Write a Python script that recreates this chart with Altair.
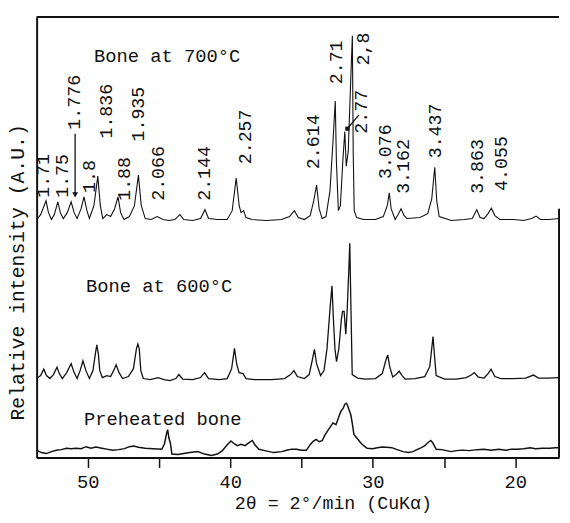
import altair as alt
import pandas as pd

# ---- data (2theta in degrees, relative intensity in A.U.) ----
t700 = [53.58, 53.30, 52.92, 52.75, 52.54, 52.34, 52.09, 51.92, 51.71, 51.43, 51.16, 50.95, 50.74, 50.46,
        50.26, 50.05, 49.88, 49.56, 49.29, 49.11, 48.94, 48.66, 48.39, 48.11, 47.87, 47.69, 47.45, 47.07,
        46.72, 46.44, 46.24, 45.96, 45.54, 45.13, 44.71, 44.30, 43.88, 43.53, 43.26, 42.63, 42.08, 41.77,
        41.52, 40.90, 40.21, 39.86, 39.58, 39.37, 39.24, 39.06, 38.89, 38.48, 37.44, 36.40, 35.84, 35.50,
        35.22, 34.80, 34.39, 34.14, 33.94, 33.76, 33.55, 33.28, 33.00, 32.79, 32.63, 32.55, 32.41, 32.27,
        32.10, 31.96, 31.86, 31.72, 31.55, 31.43, 31.37, 31.30, 31.13, 30.64, 29.81, 29.26, 28.98, 28.84,
        28.71, 28.43, 28.22, 28.01, 27.80, 27.60, 26.69, 26.14, 25.86, 25.65, 25.51, 25.34, 24.48, 23.58,
        23.02, 22.70, 22.47, 22.19, 21.91, 21.68, 21.43, 21.08, 20.11, 19.41, 18.86, 18.54, 18.24, 17.62, 16.92]
i700 = [241, 246, 260, 248, 241, 246, 259, 248, 242, 248, 259, 248, 242, 252,
        264, 250, 242, 255, 285, 255, 242, 246, 244, 252, 264, 248, 241, 244,
        255, 286, 255, 242, 241, 244, 241, 240, 241, 246, 241, 240, 242, 251,
        242, 241, 241, 250, 283, 255, 248, 250, 243, 241, 240, 241, 244, 250,
        243, 241, 245, 260, 276, 252, 242, 244, 270, 320, 361, 300, 250, 255,
        300, 330, 295, 310, 380, 427, 310, 250, 243, 241, 241, 244, 255, 268,
        252, 241, 246, 252, 245, 242, 243, 247, 262, 294, 260, 244, 240, 241,
        242, 251, 243, 242, 247, 252.5, 245, 241, 241, 240, 242, 244.5, 241, 241, 242]

t600 = [53.58, 53.30, 53.08, 52.89, 52.65, 52.40, 52.15, 51.99, 51.78, 51.47, 51.16, 50.95, 50.74, 50.53,
        50.33, 50.12, 49.88, 49.63, 49.46, 49.36, 49.25, 49.15, 48.97, 48.66, 48.39, 48.18, 48.00, 47.80,
        47.55, 47.14, 46.79, 46.58, 46.48, 46.38, 46.27, 46.10, 45.61, 45.06, 44.64, 44.23, 43.81, 43.60,
        43.33, 42.63, 42.08, 41.80, 41.52, 40.76, 40.21, 39.90, 39.70, 39.55, 39.38, 39.10, 38.89, 38.27,
        37.09, 36.19, 35.77, 35.53, 35.29, 34.80, 34.46, 34.25, 34.09, 33.94, 33.66, 33.42, 33.21, 33.00,
        32.86, 32.76, 32.65, 32.54, 32.38, 32.20, 32.12, 32.01, 31.89, 31.79, 31.68, 31.61, 31.54, 31.44,
        31.06, 30.51, 29.81, 29.33, 29.09, 28.95, 28.81, 28.60, 28.36, 28.15, 27.94, 27.73, 27.04, 26.35,
        26.00, 25.77, 25.65, 25.55, 24.96, 24.13, 23.44, 23.09, 22.88, 22.60, 22.19, 21.91, 21.70, 21.43,
        21.01, 20.11, 19.28, 18.72, 18.37, 17.68, 16.92]
i600 = [80, 83, 89.5, 83, 80, 84, 91.5, 85, 80, 86, 95, 86, 80, 88,
        98, 88, 80, 88, 105, 114, 105, 88, 81, 83, 82, 88, 94, 86,
        80, 82, 90, 110, 115, 110, 88, 80, 79, 81, 79, 78, 80, 84,
        79.5, 79, 81, 86, 80, 79, 80, 90, 110.5, 95, 86, 85, 80, 79,
        79, 80, 84, 88, 82, 80, 84, 98, 109.5, 95, 83, 88, 110, 150,
        174, 140, 110, 97, 110, 140, 148, 148, 125, 150, 190, 217, 160, 84,
        80.5, 79.5, 80, 85, 98, 104, 92, 81.5, 84, 87.5, 83, 79.5, 80, 82,
        92, 122.5, 100, 83, 79.5, 79.5, 81, 83.5, 86, 81.5, 80.5, 85, 89.5, 82,
        80, 80, 80.5, 83.5, 80.5, 80.5, 81]

tpre = [53.58, 53.24, 52.89, 52.54, 52.20, 51.85, 51.50, 51.16, 50.81, 50.46, 50.12, 49.77, 49.42, 49.01,
        48.66, 48.25, 47.83, 47.42, 47.07, 46.77, 46.44, 45.96, 45.41, 44.80, 44.61, 44.47, 44.39, 44.30,
        44.19, 44.09, 43.67, 43.26, 42.84, 42.28, 41.80, 41.32, 40.90, 40.55, 40.21, 39.95, 39.72, 39.51,
        39.24, 38.96, 38.68, 38.45, 38.27, 37.99, 37.57, 36.95, 36.39, 36.04, 35.70, 35.35, 35.01, 34.66,
        34.39, 34.18, 33.97, 33.76, 33.55, 33.35, 33.14, 32.93, 32.79, 32.58, 32.41, 32.24, 32.07, 31.96,
        31.84, 31.75, 31.65, 31.54, 31.44, 31.32, 31.13, 30.85, 30.64, 30.39, 30.02, 29.67, 29.35, 29.05,
        28.66, 28.29, 27.87, 27.50, 27.18, 26.90, 26.58, 26.35, 26.14, 25.93, 25.79, 25.65, 25.54, 25.17,
        24.82, 24.50, 24.13, 23.71, 23.23, 22.67, 22.19, 21.70, 21.15, 20.65, 20.24, 19.88, 19.42, 18.95,
        18.58, 18.10, 17.57, 17.20, 16.92]
ipre = [7.3, 5, 4, 6, 7.3, 8, 9.3, 9, 9.5, 9, 11, 9.5, 10.7, 9.5,
        8.5, 7.3, 8, 9, 11, 11.7, 10.5, 9.3, 9, 8.3, 14, 24, 28.3, 20,
        14, 3.5, 3, 4, 5, 6, 3.5, 2, 3.5, 7, 13, 16.7, 14, 12,
        13.5, 12, 15, 17.3, 13, 8.3, 7, 5, 6, 7.3, 8.5, 8.3, 7.3, 7.3,
        13, 16.5, 18.3, 16, 17, 23, 27.5, 32, 35, 33.3, 40, 46.7, 50, 54,
        55, 52, 48, 43.3, 35, 23.3, 20, 15, 12, 9.3, 9, 10, 10.7, 10.5,
        10, 8, 6, 5, 6, 8, 10, 12, 15, 17.3, 15, 11, 8.3, 8,
        7, 6, 7, 7.5, 7, 8, 8.3, 7.5, 8.5, 7.5, 8.5, 8.3, 9, 10,
        9, 9.5, 9.3, 10, 10]

# d-spacing labels (text, 2theta position, intensity of label start)
peak_labels = ["1.71", "1.75", "1.776", "1.8", "1.836", "1.88", "1.935", "2.066", "2.144", "2.257",
               "2.614", "2.71", "2.77", "2,8", "3.076", "3.162", "3.437", "3.863", "4.055"]
peak_label_theta = [53.16, 51.78, 50.95, 49.91, 48.73, 47.48, 46.44, 45.06, 41.80, 38.96,
                    34.18, 32.58, 30.85, 30.71, 29.12, 27.87, 25.65, 22.67, 21.01]
peak_label_int = [263, 263, 332, 268, 323, 260, 320, 260, 260, 297,
                  292, 378, 328, 397, 282, 267, 303, 267, 270]

trace_names = ["Bone at 700°C", "Bone at 600°C", "Preheated bone"]
trace_name_theta = [49.56, 50.11, 50.26]
trace_name_int = [401, 168, 33]

# pointer lines from labels to peaks
arrow_theta = [50.88, 30.97]
arrow_theta2 = [50.88, 31.78]
arrow_int = [328, 347]
arrow_int2 = [266, 333]

X_MIN, X_MAX = 16.93, 53.58
Y_MAX = 446
FONT = "Liberation Mono"

# ---- tables ----
rows = []
for name, ts, vs in [("700", t700, i700), ("600", t600, i600), ("pre", tpre, ipre)]:
    for k, (t, v) in enumerate(zip(ts, vs)):
        rows.append({"theta": t, "intensity": v, "trace": name, "k": k})
traces = pd.DataFrame(rows)
labels_df = pd.DataFrame({"text": peak_labels, "theta": peak_label_theta, "intensity": peak_label_int})
names_df = pd.DataFrame({"text": trace_names, "theta": trace_name_theta, "intensity": trace_name_int})
arrows_df = pd.DataFrame({"theta": arrow_theta, "theta2": arrow_theta2,
                          "intensity": arrow_int, "intensity2": arrow_int2})
heads_df = pd.DataFrame({"theta": [arrow_theta2[0]], "intensity": [arrow_int2[0]]})
heads2_df = pd.DataFrame({"theta": [arrow_theta2[1]], "intensity": [arrow_int2[1]]})

xscale = alt.Scale(domain=[X_MIN, X_MAX], reverse=True, nice=False, zero=False)
yscale = alt.Scale(domain=[0, Y_MAX], nice=False, zero=False)

xaxis = alt.Axis(
    values=[50, 45, 40, 35, 30, 25, 20],
    labelExpr="datum.value % 10 == 0 ? datum.label : ''",
    tickSize=10, tickWidth=1.5, tickColor="#111",
    domainWidth=2, domainColor="#111", grid=False,
    labelFont=FONT, labelFontSize=19, labelColor="#111", labelPadding=5,
    title="2θ = 2°/min (CuKα)", titleFont=FONT, titleFontSize=18.5, titleFontWeight="normal",
    titleColor="#111", titleX=300, titleY=52, titleAlign="center", titleBaseline="alphabetic",
)
yaxis = alt.Axis(
    ticks=False, labels=False, grid=False, domainWidth=2, domainColor="#111",
    title="Relative intensity (A.U.)", titleFont=FONT, titleFontSize=20, titleFontWeight="normal",
    titleColor="#111", titleX=-19, titleY=258, titleAlign="center", titleBaseline="middle", titleAngle=270,
)

lines = alt.Chart(traces).mark_line(color="#111", interpolate="linear").encode(
    x=alt.X("theta:Q", scale=xscale, axis=xaxis),
    y=alt.Y("intensity:Q", scale=yscale, axis=yaxis),
    detail="trace:N",
    order="k:Q",
    strokeWidth=alt.StrokeWidth("trace:N", scale=alt.Scale(domain=["700", "600", "pre"], range=[1.1, 1.5, 1.8]), legend=None),
)

peak_text = alt.Chart(labels_df).mark_text(
    angle=270, align="left", baseline="middle", font=FONT, fontSize=18.5, color="#111"
).encode(x="theta:Q", y="intensity:Q", text="text:N")

name_text = alt.Chart(names_df).mark_text(
    align="left", baseline="alphabetic", font=FONT, fontSize=19, color="#111"
).encode(x="theta:Q", y="intensity:Q", text="text:N")

arrows = alt.Chart(arrows_df).mark_rule(color="#111", strokeWidth=1.3).encode(
    x="theta:Q", x2="theta2:Q", y="intensity:Q", y2="intensity2:Q")
heads = alt.Chart(heads_df).mark_point(shape="triangle-down", filled=True, size=35, color="#111", opacity=1).encode(
    x="theta:Q", y="intensity:Q")
heads2 = alt.Chart(heads2_df).mark_point(shape="square", filled=True, size=18, color="#111", opacity=1).encode(
    x="theta:Q", y="intensity:Q")

# frame: top edge and (partial) right edge
top_edge = alt.Chart(pd.DataFrame({"a": [0]})).mark_rule(color="#111", strokeWidth=2).encode(
    x=alt.datum(X_MAX), x2=alt.datum(X_MIN), y=alt.datum(Y_MAX))
right_edge = alt.Chart(pd.DataFrame({"a": [0]})).mark_rule(color="#111", strokeWidth=2).encode(
    x=alt.datum(X_MIN), y=alt.datum(0), y2=alt.datum(252))

chart = alt.layer(lines, peak_text, name_text, arrows, heads, heads2, top_edge, right_edge).properties(
    width=529, height=446,
    autosize=alt.AutoSizeParams(type="none"),
    padding={"left": 29, "top": 6, "right": 3, "bottom": 57},
    background="white",
).configure_view(stroke=None)

chart.save("out.html", embed_options={"renderer": "svg", "actions": False})
